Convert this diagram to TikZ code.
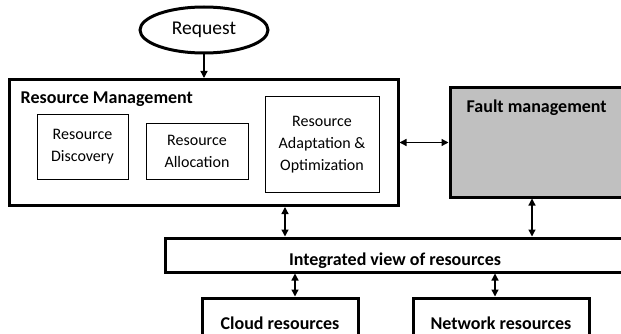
\documentclass[tikz,border=0pt]{standalone}
\usepackage{fontspec}
\setmainfont{Carlito}
\usetikzlibrary{shapes.geometric,arrows.meta,positioning}
\definecolor{faultgray}{HTML}{C0C0C0}
\tikzset{
  mainbox/.style={rectangle, draw=black, line width=3pt, inner sep=0pt},
  subbox/.style={rectangle, draw=black, line width=1pt, align=center, inner sep=0pt,
                 font=\fontsize{16}{22}\selectfont},
  ttl/.style={font=\fontsize{18}{20}\selectfont\bfseries, inner sep=0pt},
  ar/.style={-{Triangle[length=7pt,width=7pt]}, line width=1.3pt},
  arb/.style={{Triangle[length=7pt,width=7pt]}-{Triangle[length=7pt,width=7pt]}, line width=1.3pt}
}
\begin{document}
\begin{tikzpicture}[x=1pt, y=-1pt]
\useasboundingbox (0,0) rectangle (621,334);
\clip (0,0) rectangle (621,334);
% ---- request ----
\node[ellipse, draw=black, line width=3pt, minimum width=128pt, minimum height=46pt,
      inner sep=0pt, font=\fontsize{19.5}{21}\selectfont] (req) at (204,30) {Request};
% ---- resource management ----
\node[mainbox, minimum width=389pt, minimum height=126pt] (rm) at (203.5,142.5) {};
\node[ttl, anchor=base west] (rmtitle) at ([xshift=13pt,yshift=-26pt]rm.north west) {Resource Management};
\node[subbox, minimum width=91pt, minimum height=64pt] (disc) at (82.5,147) {Resource\\Discovery};
\node[subbox, minimum width=102pt, minimum height=55pt] (alloc) at (197,151.5) {Resource\\Allocation};
\node[subbox, minimum width=114pt, minimum height=95pt] (adapt) at (322,144.5) {Resource\\Adaptation \&\\Optimization};
% ---- fault management ----
\node[mainbox, fill=faultgray, minimum width=191pt, minimum height=109pt] (fault) at (545.5,142.5) {};
\node[ttl, anchor=base west] (ftitle) at ([xshift=18pt,yshift=-26pt]fault.north west) {Fault management};
% ---- integrated view and resources ----
\node[mainbox, ttl, text height=25pt, text depth=4pt, minimum width=460pt, minimum height=34pt] (integ) at (395,255) {Integrated view of resources};
\node[mainbox, ttl, minimum width=156pt, minimum height=50pt] (cloud) at (280,323) {Cloud resources};
\node[mainbox, ttl, minimum width=176pt, minimum height=50pt] (net) at (501,323) {Network resources};
% ---- connectors ----
\coordinate (rmout) at ([xshift=81.5pt]rm.south);
\coordinate (fout) at ([xshift=-13.5pt]fault.south);
\coordinate (cin) at ([xshift=15pt]cloud.north);
\coordinate (nin) at ([xshift=-6pt]net.north);
\draw[ar] (req.south) -- (req.south |- rm.north);
\draw[arb] (rm.east) -- (rm.east -| fault.west);
\draw[arb] (rmout) -- (rmout |- integ.north);
\draw[arb] (fout) -- (fout |- integ.north);
\draw[arb] (cin) -- (cin |- integ.south);
\draw[arb] (nin) -- (nin |- integ.south);
\end{tikzpicture}
\end{document}
